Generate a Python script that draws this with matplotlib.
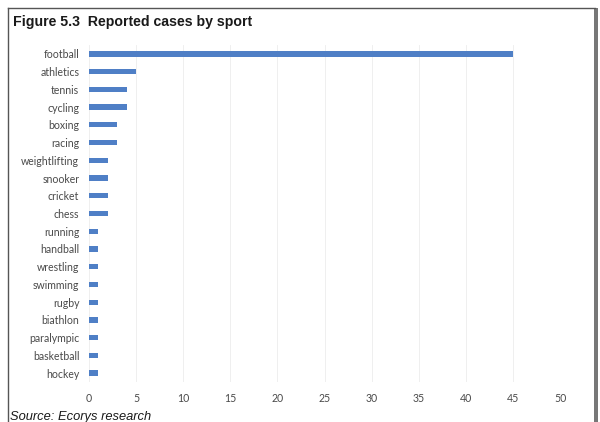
import matplotlib.pyplot as plt
from matplotlib.patches import Rectangle
from matplotlib.lines import Line2D

# data
sports = ['football', 'athletics', 'tennis', 'cycling', 'boxing', 'racing',
          'weightlifting', 'snooker', 'cricket', 'chess', 'running', 'handball',
          'wrestling', 'swimming', 'rugby', 'biathlon', 'paralympic',
          'basketball', 'hockey']
cases = [45, 5, 4, 4, 3, 3, 2, 2, 2, 2, 1, 1, 1, 1, 1, 1, 1, 1, 1]
xticks = [0, 5, 10, 15, 20, 25, 30, 35, 40, 45, 50]

fig = plt.figure(figsize=(6, 4.22), dpi=100)
fig.patch.set_facecolor('white')

# page frame (scanned report box)
fig.add_artist(Line2D([8/600, 8/600], [0, 1 - 8/422], transform=fig.transFigure,
                      color='#555555', lw=1.0))
fig.add_artist(Line2D([8/600, 595/600], [1 - 8/422, 1 - 8/422], transform=fig.transFigure,
                      color='#555555', lw=1.0))
fig.add_artist(Rectangle((594/600, 0), 4/600, 1 - 8/422, transform=fig.transFigure,
                         facecolor='#777777', edgecolor='none'))

fig.text(13/600, 1 - 22/422, 'Figure 5.3  Reported cases by sport',
         family='Liberation Sans', weight='bold', fontsize=10.2,
         color='#1a1a1a', va='center', ha='left')
fig.text(10/600, 1 - 417/422, 'Source: Ecorys research',
         family='Liberation Sans', style='italic', fontsize=9.3,
         color='#1a1a1a', va='center', ha='left')

ax = fig.add_axes([89/600, 1 - 382/422, 471/600, 337/422])
ypos = list(range(len(sports)))
ax.barh(ypos, cases, height=0.3, color='#4f7fc6', zorder=3)
ax.set_ylim(len(sports) - 0.5, -0.5)
ax.set_xlim(0, 50)
ax.set_xticks(xticks)
ax.set_yticks(ypos)
ax.set_yticklabels(sports)
ax.set_xticklabels([str(t) for t in xticks])
for lab in ax.get_yticklabels() + ax.get_xticklabels():
    lab.set_family('Lato')
    lab.set_fontsize(7.6)
    lab.set_color('#4a4a4a')
ax.tick_params(axis='both', length=0)
ax.tick_params(axis='y', pad=7)
ax.tick_params(axis='x', pad=8)
ax.grid(axis='x', color='#ececec', lw=0.6, zorder=0)
for s in ax.spines.values():
    s.set_visible(False)

fig.savefig('out.png', dpi=100)
